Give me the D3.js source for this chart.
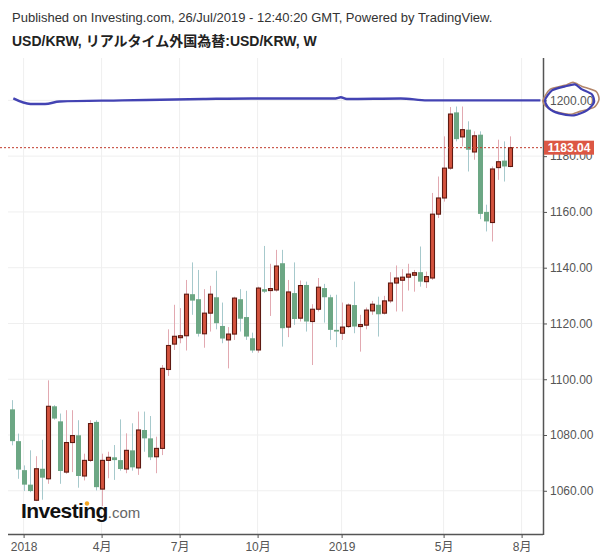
<!DOCTYPE html>
<html>
<head>
<meta charset="utf-8">
<script src="https://cdn.jsdelivr.net/npm/d3@7"></script>
<style>
  body { margin: 0; background: #fff; }
  svg { display: block; font-family: "Liberation Sans", Arial, sans-serif; }
</style>
</head>
<body>
<div id="chart"></div>
<script>
// weekly bars, USD/KRW (week start dates)
const weeks = [
  "2017-12-18","2017-12-25","2018-01-01","2018-01-08","2018-01-15","2018-01-22","2018-01-29",
  "2018-02-05","2018-02-12","2018-02-19","2018-02-26","2018-03-05","2018-03-12","2018-03-19",
  "2018-03-26","2018-04-02","2018-04-09","2018-04-16","2018-04-23","2018-04-30","2018-05-07",
  "2018-05-14","2018-05-21","2018-05-28","2018-06-04","2018-06-11","2018-06-18","2018-06-25",
  "2018-07-02","2018-07-09","2018-07-16","2018-07-23","2018-07-30","2018-08-06","2018-08-13",
  "2018-08-20","2018-08-27","2018-09-03","2018-09-10","2018-09-17","2018-09-24","2018-10-01",
  "2018-10-08","2018-10-15","2018-10-22","2018-10-29","2018-11-05","2018-11-12","2018-11-19",
  "2018-11-26","2018-12-03","2018-12-10","2018-12-17","2018-12-24","2018-12-31","2019-01-07",
  "2019-01-14","2019-01-21","2019-01-28","2019-02-04","2019-02-11","2019-02-18","2019-02-25",
  "2019-03-04","2019-03-11","2019-03-18","2019-03-25","2019-04-01","2019-04-08","2019-04-15",
  "2019-04-22","2019-04-29","2019-05-06","2019-05-13","2019-05-20","2019-05-27","2019-06-03",
  "2019-06-10","2019-06-17","2019-06-24","2019-07-01","2019-07-08","2019-07-15","2019-07-22"
];
const openVals = [
  1089.2,1077.8,1067.4,1062.2,1056.6,1067.9,1064.3,1090.3,1084.9,1066.7,1077.3,1079.9,1065.3,1070.9,
  1084.7,1060.6,1070.9,1072.0,1071.0,1067.8,1074.5,1068.2,1081.8,1078.8,1072.2,1075.2,1103.5,1112.6,
  1114.9,1115.6,1130.5,1128.7,1116.3,1123.7,1129.4,1119.1,1114.1,1116.2,1128.7,1122.3,1114.7,1110.5,
  1132.3,1131.8,1132.0,1141.6,1118.7,1130.9,1121.9,1133.8,1120.7,1125.1,1132.7,1129.4,1117.7,1116.5,
  1118.9,1126.6,1118.9,1119.4,1124.5,1126.7,1123.7,1128.1,1134.5,1135.5,1136.6,1137.3,1138.4,1135.0,
  1136.3,1159.2,1165.0,1175.7,1195.7,1186.9,1189.5,1181.5,1187.7,1160.0,1156.2,1175.9,1178.4,1176.3
];
const highVals = [
  1092.5,1080.5,1069.1,1074.5,1072.4,1078.3,1099.6,1090.7,1087.7,1088.9,1088.9,1085.3,1073.3,1085.3,
  1085.3,1073.3,1074.0,1076.4,1085.6,1080.6,1084.2,1088.4,1088.4,1086.8,1079.4,1105.1,1117.9,1126.7,
  1125.5,1135.6,1141.9,1139.2,1132.3,1133.5,1138.9,1127.5,1118.7,1129.6,1132.3,1131.7,1116.7,1133.2,
  1147.8,1141.4,1146.4,1146.4,1135.6,1141.9,1135.4,1135.0,1126.9,1136.3,1134.2,1130.3,1130.3,1127.5,
  1127.2,1135.0,1123.1,1125.7,1128.1,1129.6,1129.9,1138.4,1140.8,1139.5,1141.4,1139.2,1147.6,1138.6,
  1166.8,1172.7,1187.1,1197.6,1197.8,1197.8,1192.5,1188.9,1188.9,1162.6,1176.3,1185.9,1185.3,1187.1
];
const lowVals = [
  1076.3,1064.3,1059.9,1059.5,1056.3,1056.8,1062.5,1085.5,1062.5,1066.1,1066.7,1061.1,1063.7,1070.3,
  1060.1,1054.5,1064.5,1063.9,1067.2,1066.3,1067.2,1065.7,1074.0,1071.0,1066.3,1072.8,1101.2,1110.5,
  1112.9,1110.3,1123.1,1115.3,1111.3,1117.1,1117.9,1112.9,1103.9,1114.1,1117.1,1114.1,1109.5,1109.5,
  1130.9,1122.7,1131.4,1111.7,1115.1,1119.5,1120.7,1117.1,1105.1,1124.3,1120.3,1114.1,1111.5,1114.1,
  1118.4,1116.5,1109.9,1117.9,1123.1,1115.3,1123.2,1127.3,1124.3,1124.3,1131.8,1131.4,1133.2,1132.7,
  1135.6,1157.8,1163.7,1175.1,1185.3,1183.5,1174.5,1178.7,1157.4,1153.0,1149.4,1171.5,1170.9,1176.0
];
const closeVals = [
  1077.8,1067.6,1062.2,1059.9,1067.9,1064.7,1090.3,1085.9,1067.1,1077.3,1079.8,1065.3,1070.9,1084.1,
  1061.3,1070.9,1072.0,1071.0,1067.8,1074.5,1068.4,1081.8,1078.8,1072.0,1075.2,1103.9,1112.1,1115.4,
  1115.6,1130.5,1128.2,1116.3,1123.7,1130.5,1120.1,1114.6,1116.2,1129.1,1121.7,1115.3,1110.3,1132.7,
  1131.4,1132.5,1140.6,1118.3,1131.3,1121.6,1133.6,1120.7,1125.1,1133.0,1129.4,1117.7,1117.1,1118.7,
  1126.6,1118.9,1119.6,1124.8,1126.9,1123.3,1128.1,1134.5,1136.3,1136.6,1137.7,1138.2,1135.0,1136.8,
  1159.2,1165.0,1175.7,1195.1,1186.1,1189.5,1182.3,1187.3,1159.3,1156.6,1175.4,1178.0,1176.3,1183.04
];

// axis ticks
const priceTicks = [1060, 1080, 1100, 1120, 1140, 1160, 1180, 1200];
const timeTicks = ["2018-01-01","2018-04-02","2018-07-02","2018-10-01","2019-01-07","2019-05-06","2019-08-05"];
const timeLabels = ["2018", "4月", "7月", "10月", "2019", "5月", "8月"];

// hand drawn horizontal line near 1200 (user drawing)
const drawnDates = ["2017-12-20","2018-01-09","2018-01-26","2018-02-12","2018-04-26","2018-07-30",
  "2018-09-24","2018-12-31","2019-01-06","2019-01-13","2019-03-17","2019-04-17","2019-08-27"];
const drawnVals = [1200.7,1198.7,1198.7,1199.6,1200.0,1200.5,1200.7,1200.7,1201.1,1200.5,1200.7,1200.0,1200.0];

const lastPrice = 1183.04;

const parse = d3.timeParse("%Y-%m-%d");
const bars = weeks.map((w, i) => ({
  date: parse(w), open: openVals[i], high: highVals[i], low: lowVals[i], close: closeVals[i]
}));

const svgWidth = 600, svgHeight = 558;
const plot = { left: 8, right: 543, top: 58, bottom: 534 };

const svg = d3.select("#chart").append("svg")
  .attr("width", svgWidth)
  .attr("height", svgHeight);

svg.append("rect").attr("width", svgWidth).attr("height", svgHeight).attr("fill", "#fff");

// scales
const x = d3.scaleTime()
  .domain([bars[0].date, bars[bars.length - 1].date])
  .range([11.6, 509.6]);

const y = d3.scaleLinear()
  .domain([1044.5, 1215.2])
  .range([plot.bottom, plot.top]);

// header texts
svg.append("text")
  .attr("x", 12).attr("y", 22)
  .attr("font-size", "13px").attr("fill", "#333")
  .text("Published on Investing.com, 26/Jul/2019 - 12:40:20 GMT, Powered by TradingView.");

svg.append("text")
  .attr("x", 12).attr("y", 46)
  .attr("font-size", "14px").attr("font-weight", "bold").attr("fill", "#222")
  .style("font-family", "'Liberation Sans', 'Noto Sans CJK JP', sans-serif")
  .text("USD/KRW, リアルタイム外国為替:USD/KRW, W");

// grid
const grid = svg.append("g");
grid.selectAll(".hg").data(priceTicks).enter().append("line")
  .attr("x1", plot.left).attr("x2", plot.right)
  .attr("y1", d => y(d)).attr("y2", d => y(d))
  .attr("stroke", "#efefef");
grid.selectAll(".vg").data(timeTicks).enter().append("line")
  .attr("x1", d => x(parse(d))).attr("x2", d => x(parse(d)))
  .attr("y1", plot.top).attr("y2", plot.bottom)
  .attr("stroke", "#efefef");

// candles
const candles = svg.append("g");
candles.selectAll(".wick").data(bars).enter().append("line")
  .attr("x1", d => Math.round(x(d.date)) + 0.5)
  .attr("x2", d => Math.round(x(d.date)) + 0.5)
  .attr("y1", d => y(d.high)).attr("y2", d => y(d.low))
  .attr("stroke", d => d.close >= d.open ? "#e2a9b1" : "#a6c9cc")
  .attr("stroke-width", 1);

candles.selectAll(".body").data(bars).enter().append("rect")
  .attr("x", d => d.close >= d.open ? Math.round(x(d.date)) - 1.5 : Math.round(x(d.date)) - 2)
  .attr("width", d => d.close >= d.open ? 4 : 5)
  .attr("y", d => y(Math.max(d.open, d.close)))
  .attr("height", d => Math.max(1.5, Math.abs(y(d.open) - y(d.close))))
  .attr("fill", d => d.close >= d.open ? "#d4533e" : "#6ca784")
  .attr("stroke", d => d.close >= d.open ? "#5e1a12" : "none")
  .attr("stroke-width", 1.1);

// hand drawn line
const drawn = drawnDates.map((d, i) => [x(parse(d)), y(drawnVals[i])]);
svg.append("path")
  .attr("d", d3.line().curve(d3.curveMonotoneX)(drawn))
  .attr("fill", "none")
  .attr("stroke", "#4343b3")
  .attr("stroke-width", 2.4);

// axes
const xAxis = svg.append("g")
  .attr("transform", `translate(0, ${plot.bottom})`)
  .call(d3.axisBottom(x)
    .tickValues(timeTicks.map(parse))
    .tickFormat((d, i) => timeLabels[i])
    .tickSize(4));
xAxis.select(".domain").remove();
xAxis.selectAll("line").attr("stroke", "#555");
xAxis.selectAll("text")
  .attr("y", 8)
  .attr("fill", "#555")
  .style("font-size", "12px")
  .style("font-family", "'Liberation Sans', 'Noto Sans CJK JP', sans-serif");

svg.append("line")
  .attr("x1", plot.left).attr("x2", plot.right)
  .attr("y1", plot.bottom + 0.5).attr("y2", plot.bottom + 0.5)
  .attr("stroke", "#555").attr("stroke-width", 1.5);

const yAxis = svg.append("g")
  .attr("transform", `translate(${plot.right}, 0)`)
  .call(d3.axisRight(y)
    .tickValues(priceTicks)
    .tickFormat(d3.format(".2f"))
    .tickSize(4));
yAxis.select(".domain").remove();
yAxis.selectAll("line").attr("stroke", "#555");
yAxis.selectAll("text")
  .attr("x", 7)
  .attr("fill", "#555")
  .style("font-size", "12px")
  .style("font-family", "'Liberation Sans', Arial, sans-serif");

svg.append("line")
  .attr("x1", plot.right + 0.5).attr("x2", plot.right + 0.5)
  .attr("y1", plot.top).attr("y2", plot.bottom + 1)
  .attr("stroke", "#555").attr("stroke-width", 1.5);

// last price line + label
svg.append("line")
  .attr("x1", 0).attr("x2", plot.right)
  .attr("y1", y(lastPrice)).attr("y2", y(lastPrice))
  .attr("stroke", "#c0392b")
  .attr("stroke-width", 1)
  .attr("stroke-dasharray", "2,2");

svg.append("rect")
  .attr("x", plot.right + 1).attr("y", y(lastPrice) - 7)
  .attr("width", 50).attr("height", 14)
  .attr("fill", "#dc5744");
svg.append("text")
  .attr("x", plot.right + 26).attr("y", y(lastPrice) + 4.5)
  .attr("text-anchor", "middle")
  .attr("font-size", "12px").attr("font-weight", "bold").attr("fill", "#fff")
  .text(d3.format(".2f")(lastPrice));

// hand drawn circles around the 1200.00 label
const cx = plot.right + 26, cy = y(1200);
const blueLoop = [[-24, 0], [-17, -10], [-4, -14], [6, -16], [13, -11], [23, -6], [25, 2], [18, 10],
  [5, 15], [-10, 13], [-20, 8]];
const brownLoop = [[-26, 0], [-19, -11], [-4, -15], [4, -18], [13, -14], [27, -9], [30, -1], [25, 7],
  [11, 11], [1, 14], [-14, 11], [-23, 6]];
svg.append("path")
  .attr("d", d3.line().curve(d3.curveCardinalClosed.tension(0.3))(brownLoop.map(p => [cx + p[0], cy + p[1]])))
  .attr("fill", "none").attr("stroke", "#b3866a").attr("stroke-width", 1.6);
svg.append("path")
  .attr("d", d3.line().curve(d3.curveCardinalClosed.tension(0.3))(blueLoop.map(p => [cx + p[0], cy + p[1]])))
  .attr("fill", "none").attr("stroke", "#4040b0").attr("stroke-width", 2.2);

// Investing.com logo
const logo = svg.append("text")
  .attr("x", 21).attr("y", 518);
logo.append("tspan")
  .attr("font-size", "21px").attr("font-weight", "bold").attr("fill", "#111")
  .attr("letter-spacing", "-0.6")
  .text("Investing");
logo.append("tspan")
  .attr("font-size", "15px").attr("fill", "#666")
  .text(".com");
svg.append("circle")
  .attr("cx", 87).attr("cy", 503.5).attr("r", 2.2)
  .attr("fill", "#f5a623");
</script>
</body>
</html>
